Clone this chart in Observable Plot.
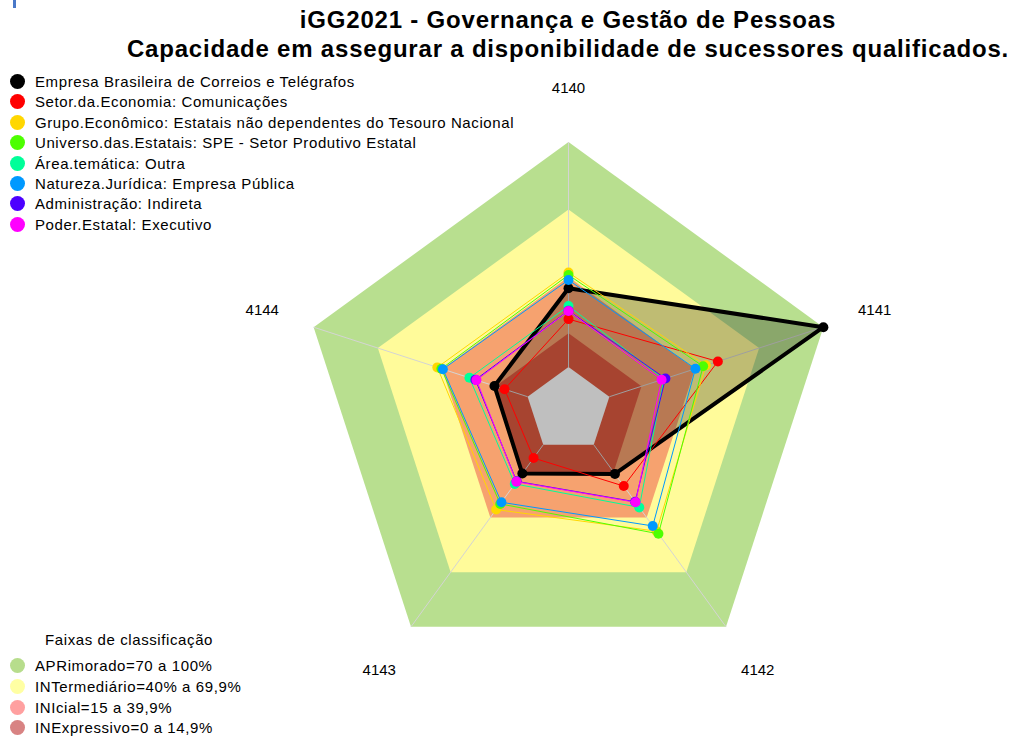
<!DOCTYPE html>
<html>
<head>
<meta charset="utf-8">
<script src="https://cdn.jsdelivr.net/npm/d3@7"></script>
<script src="https://cdn.jsdelivr.net/npm/@observablehq/plot@0.6"></script>
<style>
  body { margin: 0; background: #fff; font-family: "Liberation Sans", Arial, sans-serif; }
  #wrap { position: relative; width: 1016px; height: 738px; overflow: hidden; }
  #chart { position: absolute; left: 0; top: 0; }
  .title { position: absolute; left: 568px; transform: translateX(-50%); white-space: nowrap;
           font-weight: bold; font-size: 24px; letter-spacing: 0.8px; color: #000; line-height: 29px; text-align: center; }
  .leg { position: absolute; left: 0; font-size: 15px; letter-spacing: 0.6px; color: #000; }
  .row { position: absolute; left: 0; height: 20px; white-space: nowrap; }
  .sw { position: absolute; left: 10px; width: 15px; height: 15px; border-radius: 50%; top: 2px; }
  .lab { position: absolute; left: 35px; top: 0; line-height: 19px; }
  .mark { position: absolute; left: 13px; top: 0; width: 3px; height: 8px; background: #4a78c8; }
</style>
</head>
<body>
<div id="wrap">
  <div id="chart"></div>
  <div class="mark"></div>
  <div class="title" style="top:5px">iGG2021 - Governança e Gestão de Pessoas<br>Capacidade em assegurar a disponibilidade de sucessores qualificados.</div>
  <div class="leg" id="legTop" style="top:72px"></div>
  <div class="leg" id="legBot" style="top:631px"></div>
</div>
<script>
// ---- data ----
const axisLabels = ["4140", "4141", "4142", "4143", "4144"];

const seriesNames = [
  "Empresa Brasileira de Correios e Telégrafos",
  "Setor.da.Economia: Comunicações",
  "Grupo.Econômico: Estatais não dependentes do Tesouro Nacional",
  "Universo.das.Estatais: SPE - Setor Produtivo Estatal",
  "Área.temática: Outra",
  "Natureza.Jurídica: Empresa Pública",
  "Administração: Indireta",
  "Poder.Estatal: Executivo"
];
const seriesColors = ["#000000", "#ff0000", "#ffd700", "#4dff00", "#00ff99", "#0099ff", "#4c00ff", "#ff00ff"];

const vCorreios = [35.0, 100.0, 16.0, 15.8, 15.5];
const vSetor    = [21.3, 50.7, 22.7, 7.3, 10.8];
const vGrupo    = [42.0, 45.1, 47.5, 35.6, 42.2];
const vUniverso = [40.9, 43.8, 48.9, 32.5, 40.3];
const vArea     = [27.1, 25.5, 34.4, 21.5, 27.2];
const vNatureza = [38.7, 40.2, 44.6, 31.6, 39.6];
const vAdmin    = [25.0, 26.2, 31.3, 20.1, 24.4];
const vPoder    = [24.9, 24.4, 31.6, 20.3, 23.9];
const seriesValues = [vCorreios, vSetor, vGrupo, vUniverso, vArea, vNatureza, vAdmin, vPoder];

const bandNames  = ["APRimorado=70 a 100%", "INTermediário=40% a 69,9%", "INIcial=15 a 39,9%", "INExpressivo=0 a 14,9%"];
const bandTops   = [100, 70, 40, 15];
const bandFills  = ["#b8df8f", "#fffb9a", "#f6a26f", "#df5b40"];
const bandLegend = ["#b7dd8c", "#ffffa3", "#ffa0a0", "#d88383"];
const legendTitle = "Faixas de classificação";

// ---- geometry (value units) ----
const offset = 19.1;          // inner hole radius in value units
const labelValue = 124;       // where axis labels sit
const n = axisLabels.length;
const ang = i => (i * 2 * Math.PI) / n;
const px = (v, i) => (v + offset) * Math.sin(ang(i));
const py = (v, i) => (v + offset) * Math.cos(ang(i));
const ring = (vals) => [...vals, vals[0]].map((v, k) => ({x: px(v, k % n), y: py(v, k % n)}));

const marks = [];
// bands
bandTops.forEach((t, b) => {
  marks.push(Plot.line(ring(axisLabels.map(() => t)), {x: "x", y: "y", fill: bandFills[b], stroke: "none"}));
});
marks.push(Plot.line(ring(axisLabels.map(() => 0)), {x: "x", y: "y", fill: "#ffffff", stroke: "none"}));
// spokes
const spokes = axisLabels.map((a, i) => ({x1: px(0, i), y1: py(0, i), x2: px(100, i), y2: py(100, i)}));
marks.push(Plot.link(spokes, {x1: "x1", y1: "y1", x2: "x2", y2: "y2", stroke: "#d4d4d4", strokeWidth: 1}));
// series
seriesValues.forEach((vals, s) => {
  const pts = ring(vals);
  if (s === 0) {
    marks.push(Plot.line(pts, {x: "x", y: "y", stroke: seriesColors[s], strokeWidth: 4, fill: "#000", fillOpacity: 0.25, strokeLinejoin: "miter"}));
  } else {
    marks.push(Plot.line(pts, {x: "x", y: "y", stroke: seriesColors[s], strokeWidth: 1}));
  }
  marks.push(Plot.dot(pts.slice(0, n), {x: "x", y: "y", r: 5, fill: seriesColors[s], stroke: "none"}));
});
// axis labels
const labs = axisLabels.map((a, i) => ({x: px(labelValue, i), y: py(labelValue, i), t: a}));
marks.push(Plot.text(labs, {x: "x", y: "y", text: "t", fontSize: 15, fill: "#000"}));

const unit = 2.25, cx = 568, cy = 409.5, W = 1016, H = 738;
const chart = Plot.plot({
  width: W, height: H,
  marginTop: 0, marginBottom: 0, marginLeft: 0, marginRight: 0,
  x: {domain: [-cx / unit, (W - cx) / unit], axis: null},
  y: {domain: [-(H - cy) / unit, cy / unit], axis: null},
  style: {fontFamily: "'Liberation Sans', Arial, sans-serif", background: "transparent"},
  marks
});
document.getElementById("chart").appendChild(chart);

// ---- legends ----
const legTop = document.getElementById("legTop");
seriesNames.forEach((nm, i) => {
  const row = document.createElement("div");
  row.className = "row";
  row.style.top = (i * 20.4) + "px";
  row.innerHTML = `<span class="sw" style="background:${seriesColors[i]}"></span><span class="lab">${nm}</span>`;
  legTop.appendChild(row);
});
const legBot = document.getElementById("legBot");
const tt = document.createElement("div");
tt.className = "row";
tt.style.top = "0px";
tt.style.left = "45px";
tt.textContent = legendTitle;
legBot.appendChild(tt);
bandNames.forEach((nm, i) => {
  const row = document.createElement("div");
  row.className = "row";
  row.style.top = (25 + i * 20.8) + "px";
  row.innerHTML = `<span class="sw" style="background:${bandLegend[i]}"></span><span class="lab">${nm}</span>`;
  legBot.appendChild(row);
});
</script>
</body>
</html>
